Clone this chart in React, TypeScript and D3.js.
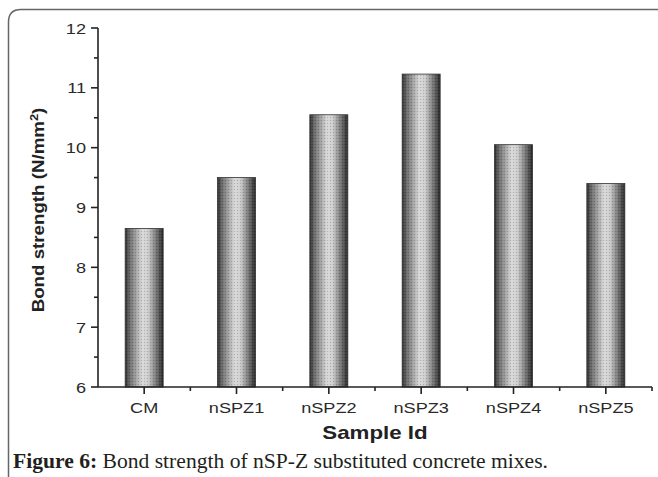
import React from "react";
import * as d3 from "d3";

const categories = ["CM", "nSPZ1", "nSPZ2", "nSPZ3", "nSPZ4", "nSPZ5"];
const values = [8.65, 9.5, 10.55, 11.23, 10.05, 9.4];
const yTicks = [6, 7, 8, 9, 10, 11, 12];
const yMinorTicks = [6.5, 7.5, 8.5, 9.5, 10.5, 11.5];

const W = 658;
const H = 477;
const plotLeft = 98;
const plotRight = 652;
const plotTop = 28;
const plotBottom = 387;
const barWidth = 38;
const SX = 1.17;

export default function App() {
  const x = d3.scaleBand<string>().domain(categories).range([plotLeft, plotRight]).padding(0);
  const y = d3.scaleLinear().domain([6, 12]).range([plotBottom, plotTop]);
  const bw = x.bandwidth();
  const boundaries = d3.range(categories.length + 1).map((i) => plotLeft + i * bw);

  return (
    <svg
      width={W}
      height={H}
      style={{ position: "absolute", left: 0, top: 0, background: "#fff" }}
      fontFamily="'Liberation Sans', Arial, sans-serif"
    >
      <defs>
        <linearGradient id="barGrad" x1="0" x2="1" y1="0" y2="0">
          <stop offset="0" stopColor="#2a2a2a" />
          <stop offset="0.12" stopColor="#6a6a6a" />
          <stop offset="0.45" stopColor="#d8d8d8" />
          <stop offset="0.6" stopColor="#cfcfcf" />
          <stop offset="0.88" stopColor="#5a5a5a" />
          <stop offset="1" stopColor="#222" />
        </linearGradient>
        <pattern id="hatch" width="3" height="3" patternUnits="userSpaceOnUse">
          <rect x="0" y="0" width="1" height="1" fill="#000" opacity="0.18" />
          <rect x="1.5" y="1.5" width="1" height="1" fill="#fff" opacity="0.25" />
        </pattern>
      </defs>

      {/* frame */}
      <path
        d={`M8.5,${H} L8.5,22 Q8.5,9.5 21,9.5 L${W},9.5`}
        fill="none"
        stroke="#666"
        strokeWidth={1.5}
      />

      {/* bars */}
      {categories.map((c, i) => {
        const cx = (x(c) as number) + bw / 2;
        const top = y(values[i]);
        return (
          <g key={c}>
            <rect x={cx - barWidth / 2} y={top} width={barWidth} height={plotBottom - top} fill="url(#barGrad)" />
            <rect x={cx - barWidth / 2} y={top} width={barWidth} height={plotBottom - top} fill="url(#hatch)" />
            <rect
              x={cx - barWidth / 2}
              y={top}
              width={barWidth}
              height={plotBottom - top}
              fill="none"
              stroke="#333"
              strokeWidth={0.8}
            />
          </g>
        );
      })}

      {/* y axis */}
      <line x1={plotLeft} x2={plotLeft} y1={plotTop} y2={plotBottom} stroke="#222" strokeWidth={1.6} />
      {yTicks.map((t) => (
        <g key={t}>
          <line x1={plotLeft - 7} x2={plotLeft} y1={y(t)} y2={y(t)} stroke="#222" strokeWidth={1.6} />
          <text
            transform={`translate(${plotLeft - 12},${y(t)}) scale(${SX},1)`}
            dy="0.36em"
            textAnchor="end"
            fontSize={15.5}
            fill="#2a2a2a"
          >
            {t}
          </text>
        </g>
      ))}
      {yMinorTicks.map((t) => (
        <line key={t} x1={plotLeft - 4} x2={plotLeft} y1={y(t)} y2={y(t)} stroke="#222" strokeWidth={1.6} />
      ))}

      {/* x axis */}
      <line x1={plotLeft} x2={plotRight} y1={plotBottom} y2={plotBottom} stroke="#222" strokeWidth={1.6} />
      {categories.map((c) => {
        const cx = (x(c) as number) + bw / 2;
        return (
          <g key={c}>
            <line x1={cx} x2={cx} y1={plotBottom} y2={plotBottom + 7} stroke="#222" strokeWidth={1.6} />
            <text
              transform={`translate(${cx},${plotBottom + 26}) scale(${SX},1)`}
              textAnchor="middle"
              fontSize={15.5}
              fill="#2a2a2a"
            >
              {c}
            </text>
          </g>
        );
      })}
      {boundaries.slice(1).map((b, i) => (
        <line key={i} x1={b} x2={b} y1={plotBottom} y2={plotBottom + 4} stroke="#222" strokeWidth={1.6} />
      ))}

      {/* axis titles */}
      <text
        transform={`translate(44,210) rotate(-90) scale(${SX},1)`}
        textAnchor="middle"
        fontSize={16}
        fontWeight="bold"
        fill="#222"
      >
        Bond strength (N/mm<tspan dy="-6" fontSize={11}>2</tspan>
        <tspan dy="6">)</tspan>
      </text>
      <text
        transform={`translate(${(plotLeft + plotRight) / 2},439) scale(1.24,1)`}
        textAnchor="middle"
        fontSize={18}
        fontWeight="bold"
        fill="#222"
      >
        Sample Id
      </text>

      {/* caption */}
      <text
        x={13}
        y={468}
        fontFamily="'Liberation Serif', 'DejaVu Serif', serif"
        fontSize={21}
        fill="#231f20"
        textLength={535}
        lengthAdjust="spacingAndGlyphs"
      >
        <tspan fontWeight="bold">Figure 6:</tspan>
        <tspan> Bond strength of nSP-Z substituted concrete mixes.</tspan>
      </text>
    </svg>
  );
}
